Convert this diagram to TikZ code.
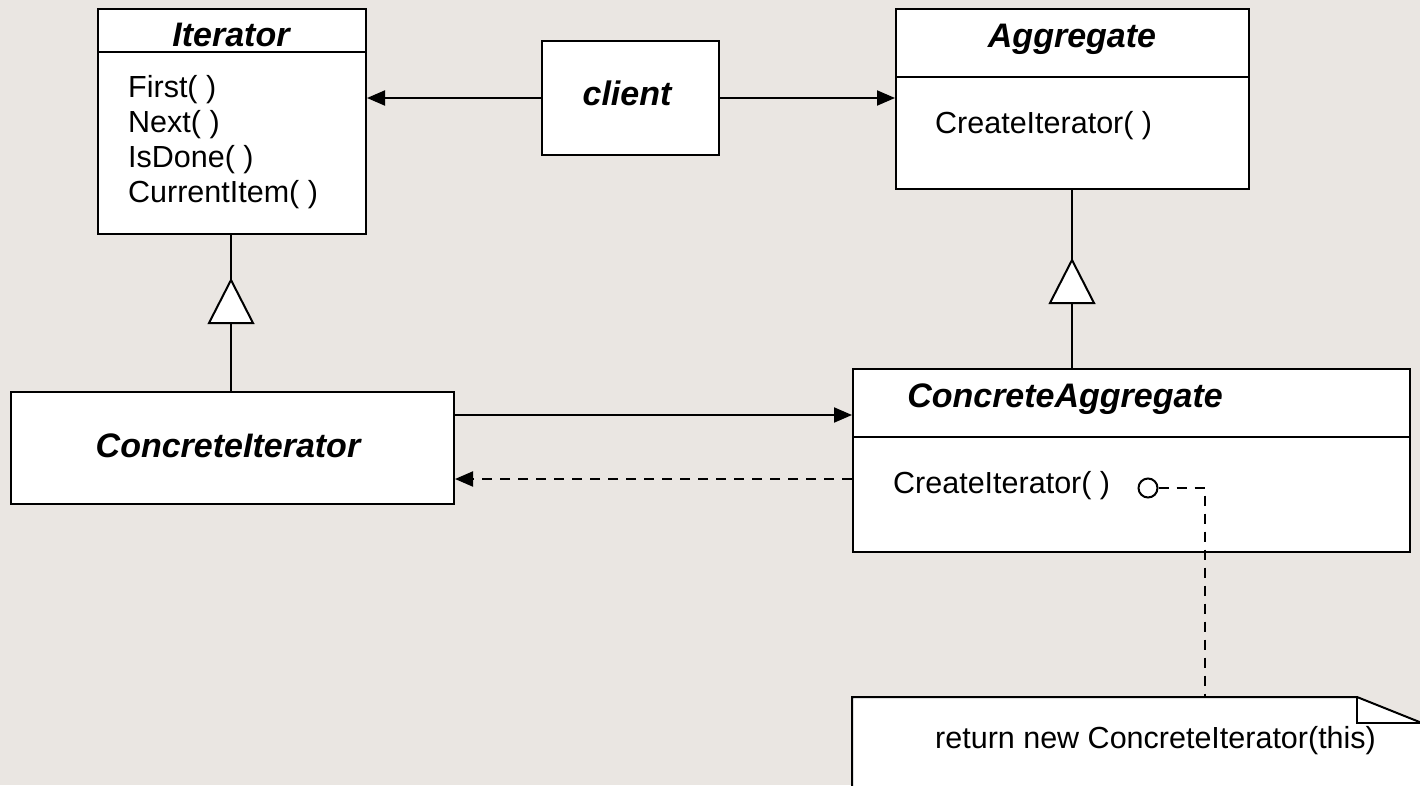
\documentclass[tikz,border=0pt]{standalone}
\usepackage{fontspec}
\setmainfont{Liberation Sans}
\usetikzlibrary{arrows.meta}
\definecolor{bg}{RGB}{234,230,226}
\tikzset{
  box/.style={draw, line width=2pt, fill=white, rectangle, inner sep=0pt, anchor=north west},
  title/.style={inner sep=0pt, anchor=base, font=\fontsize{34}{40}\selectfont\bfseries\itshape},
  op/.style={inner sep=0pt, anchor=base west, font=\fontsize{30.5}{35}\selectfont},
  conn/.style={line width=2pt},
  arr/.style={conn, -{Triangle[length=18pt,width=15pt]}},
  dashline/.style={conn, dash pattern=on 10pt off 8pt},
  gen/.style={line width=2pt, fill=white, line join=miter}
}
\begin{document}
\begin{tikzpicture}[x=1pt, y=-1pt]
\useasboundingbox (0,0) rectangle (1420,785);
\fill[bg] (0,0) rectangle (1420,785);
\clip (0,0) rectangle (1420,785);

% boxes
\node[box, minimum width=268pt, minimum height=225pt] (iter) at (97,8) {};
\node[box, minimum width=177pt, minimum height=114pt] (client) at (541,40) {};
\node[box, minimum width=353pt, minimum height=180pt] (agg) at (895,8) {};
\node[box, minimum width=443pt, minimum height=112pt] (citer) at (10,391) {};
\node[box, minimum width=557pt, minimum height=183pt] (cagg) at (852,368) {};

% compartments
\draw[conn] ([yshift=-44pt]iter.north west) -- ([yshift=-44pt]iter.north east);
\draw[conn] ([yshift=-69pt]agg.north west) -- ([yshift=-69pt]agg.north east);
\draw[conn] ([yshift=-69pt]cagg.north west) -- ([yshift=-69pt]cagg.north east);

% texts
\node[title] (iterT) at (231,46) {Iterator};
\node[op] (o1) at (128,97) {First( )};
\node[op] (o2) at (128,132) {Next( )};
\node[op] (o3) at (128,167) {IsDone( )};
\node[op] (o4) at (128,202) {CurrentItem( )};
\node[title] (clientT) at (627,105) {client};
\node[title] (aggT) at (1072,47) {Aggregate};
\node[op] (aggO) at (935,133) {CreateIterator( )};
\node[title] (citerT) at (228,457) {ConcreteIterator};
\node[title] (caggT) at (1065,407) {ConcreteAggregate};
\node[op] (caggO) at (893,493) {CreateIterator( )};

% client associations
\draw[arr] (client.west) -- (client.west -| iter.east);
\draw[arr] (client.east) -- (client.east -| agg.west);

% generalisation Iterator
\coordinate (t1) at (231,280);
\draw[conn] (iter.south -| t1) -- (t1);
\draw[gen] (t1) -- ++(-22,43) -- ++(44,0) -- cycle;
\draw[conn] ([yshift=-43pt]t1) -- (citer.north -| t1);

% generalisation Aggregate
\coordinate (t2) at (1072,260);
\draw[conn] (agg.south -| t2) -- (t2);
\draw[gen] (t2) -- ++(-22,43) -- ++(44,0) -- cycle;
\draw[conn] ([yshift=-43pt]t2) -- (cagg.north -| t2);

% ConcreteIterator <-> ConcreteAggregate
\draw[arr] ([yshift=-24pt]citer.north east) -- ([yshift=-24pt]citer.north east -| cagg.west);
\draw[arr, dash pattern=on 10pt off 8pt] ([yshift=-31pt]citer.east -| cagg.west) -- ([yshift=-31pt]citer.east);

% note
\fill[white] (852,697) -- (1357,697) -- (1422,723) -- (1422,790) -- (852,790) -- cycle;
\draw[conn, line join=miter] (852,790) -- (852,697) -- (1357,697) -- (1422,723);
\draw[conn, line join=miter] (1357,697) -- (1357,723) -- (1422,723);
\coordinate (noteTop) at (1205,697);
\node[op] (noteT) at (935,748) {return new ConcreteIterator(this)};

% note anchor
\node[draw, circle, line width=2pt, fill=white, minimum size=19pt, inner sep=0pt] (circ) at (1148,488) {};
\draw[dashline] (circ.east) -| (noteTop);
\end{tikzpicture}
\end{document}
